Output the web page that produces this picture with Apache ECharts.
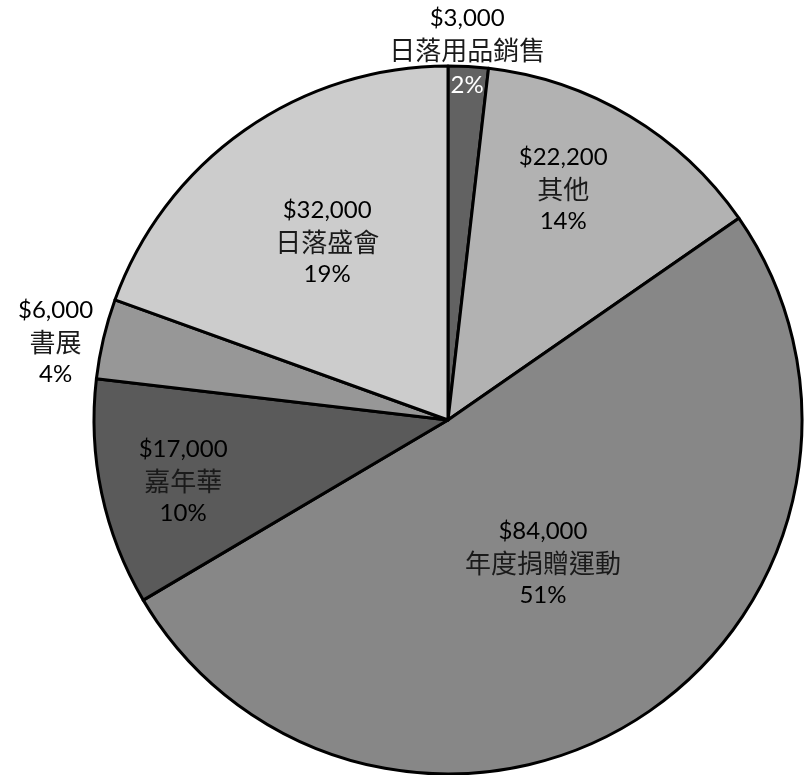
<!DOCTYPE html>
<html>
<head>
<meta charset="utf-8">
<script src="https://cdn.jsdelivr.net/npm/echarts@6/dist/echarts.min.js"></script>
<style>
html,body{margin:0;padding:0;background:#fff;}
#chart{width:809px;height:775px;}
</style>
</head>
<body>
<div id="chart"></div>
<script>
// ---- data ----
const categories = ['日落用品銷售', '其他', '年度捐贈運動', '嘉年華', '書展', '日落盛會'];
const values = [3000, 22200, 84000, 17000, 6000, 32000];

// ---- styles ----
const sliceColors = ['#626262', '#b2b2b2', '#878787', '#5a5a5a', '#979797', '#cccccc'];
const labelRadius = [1.038, 0.729, 0.485, 0.768, 1.13, 0.607]; // fraction of pie radius
const labelTurn = [-0.3, -4.4, -0.9, -1.1, -2.1, 0.85];         // degrees from slice mid-angle

const CX = 448, CY = 420, R = 354;
const total = values.reduce((a, b) => a + b, 0);
const midAngles = [];
let acc = 0;
values.forEach(v => { midAngles.push((acc + v / 2) / total * 360); acc += v; });

const chart = echarts.init(document.getElementById('chart'), null, {renderer: 'canvas'});
chart.setOption({
  backgroundColor: '#ffffff',
  animation: false,
  series: [{
    type: 'pie',
    center: [CX, CY],
    radius: [0, R],
    startAngle: 90,
    clockwise: true,
    avoidLabelOverlap: false,
    itemStyle: {borderColor: '#000', borderWidth: 3},
    emphasis: {disabled: true},
    labelLine: {show: false},
    label: {
      show: true,
      position: 'inside',
      formatter: function (p) {
        const pct = Math.round(p.value / total * 100) + '%';
        const valTxt = '$' + p.value.toLocaleString('en-US');
        const pc = p.dataIndex === 0 ? 'w' : 'c';
        return '{v|' + valTxt + '}\n{n|' + p.name + '}\n{' + pc + '|' + pct + '}';
      },
      rich: {
        v: {fontFamily: 'Lato, "Noto Sans CJK TC"', fontSize: 24, color: '#000', lineHeight: 32, align: 'center'},
        n: {fontFamily: '"Noto Sans CJK TC"', fontSize: 26, color: '#1a1a1a', lineHeight: 32, align: 'center'},
        c: {fontFamily: 'Lato, "Noto Sans CJK TC"', fontSize: 24, color: '#000', lineHeight: 32, align: 'center'},
        w: {fontFamily: 'Lato, "Noto Sans CJK TC"', fontSize: 24, color: '#fff', lineHeight: 38, align: 'center'}
      }
    },
    labelLayout: function (params) {
      const i = params.dataIndex;
      const a = (midAngles[i] + labelTurn[i]) * Math.PI / 180;
      const r = R * labelRadius[i];
      return {
        x: CX + r * Math.sin(a),
        y: CY - r * Math.cos(a),
        align: 'center',
        verticalAlign: 'middle'
      };
    },
    data: categories.map((c, i) => ({
      name: c,
      value: values[i],
      itemStyle: {color: sliceColors[i]}
    }))
  }]
});
</script>
</body>
</html>
